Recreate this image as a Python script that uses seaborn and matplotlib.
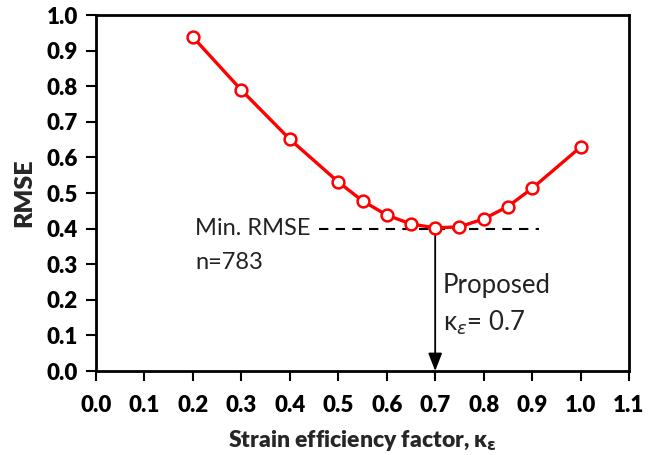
import matplotlib
matplotlib.use("Agg")
import matplotlib.pyplot as plt
import seaborn as sns
import pandas as pd

# Strain efficiency factor vs. RMSE
kappa = [0.2, 0.3, 0.4, 0.5, 0.55, 0.6, 0.65, 0.7, 0.75, 0.8, 0.85, 0.9, 1.0]
rmse = [0.938, 0.789, 0.651, 0.531, 0.478, 0.438, 0.413, 0.402, 0.405, 0.427, 0.462, 0.513, 0.629]
min_rmse = 0.40
proposed_kappa = 0.7
x_ticks = [round(0.1 * i, 1) for i in range(12)]
y_ticks = [round(0.1 * i, 1) for i in range(11)]

df = pd.DataFrame({"kappa": kappa, "rmse": rmse})

sns.set_theme(style="white")
plt.rcParams["font.family"] = ["Lato", "DejaVu Sans"]
plt.rcParams["mathtext.fontset"] = "dejavusans"

fig = plt.figure(figsize=(6.49, 4.55), dpi=100)
ax = fig.add_axes([96 / 649, 1 - 371 / 455, (629 - 96) / 649, (371 - 15) / 455])

sns.lineplot(data=df, x="kappa", y="rmse", ax=ax, color="#ff0000", linewidth=2.4,
             marker="o", markersize=8.5, markerfacecolor="white",
             markeredgecolor="#ff0000", markeredgewidth=1.8, zorder=3)

# Minimum RMSE reference line
ax.plot([0.46, 0.915], [min_rmse, min_rmse], color="black", linestyle=(0, (4.5, 3.5)),
        linewidth=1.5, zorder=2)
ax.text(0.205, min_rmse, "Min. RMSE", fontsize=17, va="center", ha="left", color="#222222")
ax.text(0.205, 0.305, "n=783", fontsize=17, va="center", ha="left", color="#222222")

# Arrow down to the proposed factor
ax.annotate("", xy=(proposed_kappa, 0.0), xytext=(proposed_kappa, min_rmse),
            arrowprops=dict(arrowstyle="-|>,head_length=0.9,head_width=0.35",
                            color="black", linewidth=1.3, shrinkA=0, shrinkB=0), zorder=2)
ax.text(0.716, 0.24, "Proposed", fontsize=18.5, va="center", ha="left", color="#222222")
ax.text(0.716, 0.135, r"κ$_{ε}$= 0.7", fontsize=18.5, va="center", ha="left", color="#222222")

ax.set_xlim(0, 1.1)
ax.set_ylim(0, 1.0)
ax.set_xticks(x_ticks)
ax.set_yticks(y_ticks)
ax.set_xticklabels([f"{t:.1f}" for t in x_ticks])
ax.set_yticklabels([f"{t:.1f}" for t in y_ticks])
ax.tick_params(axis="both", which="major", direction="out", length=7, width=1.5,
               labelsize=16, pad=10, bottom=True, left=True, colors="black")
for lbl in ax.get_xticklabels() + ax.get_yticklabels():
    lbl.set_fontweight("heavy")
ax.tick_params(axis="y", pad=6)

for sp in ax.spines.values():
    sp.set_visible(True)
    sp.set_color("black")
    sp.set_linewidth(2.0)

ax.set_xlabel(r"Strain efficiency factor, κ$_{\mathbf{ε}}$", fontsize=16.5, fontweight="heavy", labelpad=9)
ax.set_ylabel("RMSE", fontsize=18, fontweight="heavy", labelpad=8)

fig.savefig("out.png", dpi=100)
